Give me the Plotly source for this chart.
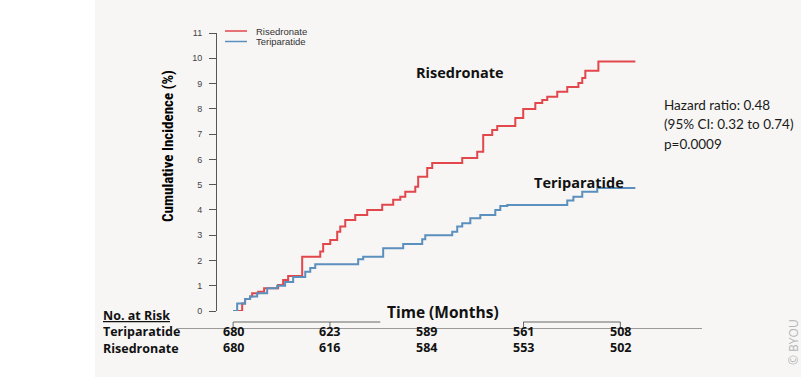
import plotly.graph_objects as go

# ---------------- data ----------------
rise_months = [0, 0.56, 0.74, 1.05, 1.18, 1.55, 1.92, 2.79, 3.10, 3.41, 4.28, 5.40, 5.58, 6.02,
               6.45, 6.64, 6.95, 7.57, 8.31, 9.24, 9.92, 10.36, 10.67, 11.29, 11.47, 12.03,
               12.34, 14.20, 15.13, 15.50, 16.06, 16.37, 17.49, 17.98, 18.73, 19.16, 19.47,
               20.09, 20.71, 21.40, 21.64, 21.83, 22.64, 24.93]
rise_pct = [0, 0.30, 0.47, 0.57, 0.70, 0.76, 0.90, 1.03, 1.23, 1.38, 2.15, 2.35, 2.65, 2.81,
            3.14, 3.34, 3.60, 3.80, 4.00, 4.20, 4.40, 4.52, 4.72, 4.92, 5.31, 5.66,
            5.86, 6.05, 6.30, 6.96, 7.16, 7.32, 7.64, 7.99, 8.23, 8.35, 8.48,
            8.68, 8.86, 9.02, 9.22, 9.51, 9.87, 9.87]

teri_months = [0, 0.25, 0.74, 1.05, 1.49, 2.11, 2.73, 3.22, 3.72, 4.47, 4.78, 5.09, 7.75,
               8.06, 9.30, 10.54, 11.72, 11.91, 13.58, 13.89, 14.20, 14.70, 15.32, 16.25,
               16.56, 16.99, 20.71, 21.09, 21.64, 22.57, 24.93]
teri_pct = [0, 0.30, 0.47, 0.57, 0.70, 0.90, 1.00, 1.15, 1.35, 1.55, 1.70, 1.85, 2.05,
            2.15, 2.48, 2.65, 2.84, 3.00, 3.14, 3.34, 3.47, 3.67, 3.80, 4.00,
            4.15, 4.19, 4.37, 4.52, 4.72, 4.87, 4.87]

risk_months = [0, 6, 12, 18, 24]
teri_at_risk = [680, 623, 589, 561, 508]
rise_at_risk = [680, 616, 584, 553, 502]
y_tick_vals = list(range(0, 12))
series_names = ["Risedronate", "Teriparatide"]
stats_lines = ["Hazard ratio: 0.48", "(95% CI: 0.32 to 0.74)", "p=0.0009"]

# ---------------- layout helpers ----------------
W, H = 801, 382
L, R, T, B = 217, 100, 33, 71
PW, PH = W - L - R, H - T - B
XR = [-1, 29]
YR = [0, 11]
RED = "#e2474c"
BLUE = "#5b8fbd"
BG = "#f7f6f5"


def px(x):
    return (x - L) / PW


def py(y):
    return (H - B - y) / PH


def mx(m):
    return (m - XR[0]) / (XR[1] - XR[0])


fig = go.Figure()
fig.add_trace(go.Scatter(x=rise_months, y=rise_pct, mode="lines", name=series_names[0],
                         line=dict(color=RED, width=2, shape="hv"), cliponaxis=False,
                         showlegend=False))
fig.add_trace(go.Scatter(x=teri_months, y=teri_pct, mode="lines", name=series_names[1],
                         line=dict(color=BLUE, width=2, shape="hv"), cliponaxis=False,
                         showlegend=False))

shapes = []
# grey panel background
shapes.append(dict(type="rect", xref="paper", yref="paper", x0=px(95), x1=px(801),
                   y0=py(377), y1=py(0), fillcolor=BG, line=dict(width=0), layer="below"))
# broken x axis bracket
axc = dict(color="#666666", width=1)
for a, b in [(0, 9.12), (17.98, 24)]:
    shapes.append(dict(type="line", xref="paper", yref="paper", x0=mx(a), x1=mx(b),
                       y0=py(322), y1=py(322), line=axc))
for m in [0, 6, 18, 24]:
    shapes.append(dict(type="line", xref="paper", yref="paper", x0=mx(m), x1=mx(m),
                       y0=py(322), y1=py(327), line=axc))
# table rule
shapes.append(dict(type="line", xref="paper", yref="paper", x0=px(176), x1=px(702),
                   y0=py(328.5), y1=py(328.5), line=dict(color="#9a9a9a", width=1)))
# legend samples
shapes.append(dict(type="line", xref="paper", yref="paper", x0=px(225), x1=px(247),
                   y0=py(31), y1=py(31), line=dict(color=RED, width=1.5)))
shapes.append(dict(type="line", xref="paper", yref="paper", x0=px(225), x1=px(247),
                   y0=py(41.5), y1=py(41.5), line=dict(color=BLUE, width=1.5)))

ann = []


def text(x, y, s, size, bold=False, anchor="left", family="Open Sans", color="#111111",
         angle=0, align="left"):
    ann.append(dict(x=x, y=y, xref="paper", yref="paper", text=("<b>%s</b>" % s) if bold else s,
                    showarrow=False, xanchor=anchor, yanchor="middle", textangle=angle,
                    align=align, borderpad=0, font=dict(size=size, family=family, color=color)))


# legend text
text(px(255), py(31), series_names[0], 9.5, family="Liberation Sans", color="#333333")
text(px(255), py(41.5), series_names[1], 9.5, family="Liberation Sans", color="#333333")
# y title
text(px(168), py(146), "Cumulative Incidence (%)", 15, bold=True, anchor="center",
     family="Liberation Sans Narrow, Roboto Condensed, Arial Narrow, sans-serif", angle=-90,
     color="#000000")
# curve labels
text(px(415), py(72.5), series_names[0], 14.5, bold=True)
text(px(533), py(182), series_names[1], 14.5, bold=True)
# stats
for i, s in enumerate(stats_lines):
    text(px(663), py(105 + 19.5 * i), s, 13.5, family="Lato", color="#1a1a1a")
# risk table
text(px(102), py(331.5), "<b><u>No. at Risk</u></b><br><b>%s</b><br><b>%s</b>"
     % (series_names[1], series_names[0]), 12.5)
text(px(443), py(312), "Time (Months)", 15.5, bold=True, anchor="center")
for m, a, b in zip(risk_months, teri_at_risk, rise_at_risk):
    text(mx(m), py(339.5), "%d<br>%d" % (a, b), 12.5, bold=True, anchor="center",
         align="center")
# copyright
text(px(793), py(342), "© BYOU", 12, anchor="center", family="Open Sans", color="#b5b5b5",
     angle=-90)

fig.update_layout(
    width=W, height=H, margin=dict(l=L, r=R, t=T, b=B),
    paper_bgcolor="white", plot_bgcolor="rgba(0,0,0,0)",
    showlegend=False, shapes=shapes, annotations=ann,
    xaxis=dict(range=XR, visible=False, fixedrange=True),
    yaxis=dict(range=YR, tickvals=y_tick_vals, showgrid=False, zeroline=False,
               showline=True, linecolor="#555555", linewidth=1, ticks="outside",
               ticklen=7, tickcolor="#555555", ticklabelstandoff=5, fixedrange=True,
               tickfont=dict(family="Liberation Sans", size=9, color="#444444")),
)

fig.write_html("out.html", config={"displayModeBar": False},
               post_script="document.body.style.margin='0px';document.body.style.padding='0px';")
